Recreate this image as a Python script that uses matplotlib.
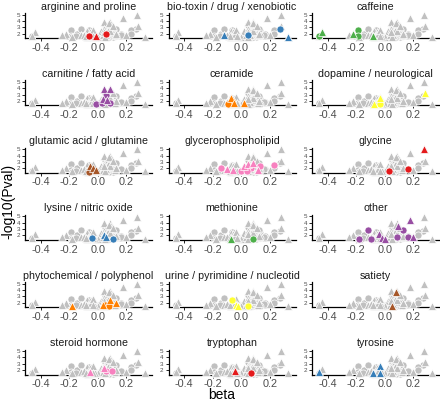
import matplotlib
matplotlib.use("Agg")
import matplotlib.pyplot as plt

plt.rcParams.update({
    "font.family": ["Liberation Sans", "DejaVu Sans"],
    "axes.unicode_minus": False,
})

# facet order and Set1-style colours (cycled)
categories = [
    "arginine and proline", "bio-toxin / drug / xenobiotic", "caffeine",
    "carnitine / fatty acid", "ceramide", "dopamine / neurological",
    "glutamic acid / glutamine", "glycerophospholipid", "glycine",
    "lysine / nitric oxide", "methionine", "other",
    "phytochemical / polyphenol", "urine / pyrimidine / nucleotid", "satiety",
    "steroid hormone", "tryptophan", "tyrosine",
]
palette = ["#E41A1C", "#377EB8", "#4DAF4A", "#984EA3",
           "#FF7F00", "#FFFF33", "#A65628", "#F781BF"]

# one entry per metabolite: category, beta, -log10(p), shape (o = circle, ^ = triangle)
point_cat = (
    ["arginine and proline"] * 3
    + ["bio-toxin / drug / xenobiotic"] * 4
    + ["caffeine"] * 6
    + ["carnitine / fatty acid"] * 8
    + ["ceramide"] * 5
    + ["dopamine / neurological"] * 4
    + ["glutamic acid / glutamine"] * 4
    + ["glycerophospholipid"] * 12
    + ["glycine"] * 3
    + ["lysine / nitric oxide"] * 4
    + ["methionine"] * 2
    + ["other"] * 12
    + ["phytochemical / polyphenol"] * 6
    + ["urine / pyrimidine / nucleotid"] * 4
    + ["satiety"] * 2
    + ["steroid hormone"] * 4
    + ["tryptophan"] * 2
    + ["tyrosine"] * 4
    + [None] * 6
)
point_beta = [
    -0.06, -0.01, 0.055,
    -0.12, 0.05, 0.27, 0.33,
    -0.46, -0.44, -0.22, -0.19, -0.19, -0.08,
    0.045, 0.085, 0.06, 0.04, -0.01, 0.03, 0.085, 0.065,
    -0.075, -0.065, -0.05, -0.09, 0.02,
    -0.035, -0.075, -0.035, 0.28,
    -0.055, -0.035, -0.015, -0.065,
    -0.145, -0.1, -0.06, 0.0, 0.02, 0.045, 0.08, 0.07, 0.13, 0.12, 0.23, 0.04,
    0.03, 0.165, 0.275,
    -0.04, 0.045, 0.06, 0.105,
    -0.07, 0.08,
    -0.18, -0.12, -0.1, -0.04, -0.02, 0.0, 0.09, 0.18, 0.085, 0.125, 0.16, 0.2,
    -0.18, 0.035, 0.05, 0.085, 0.08, 0.125,
    -0.065, -0.035, -0.02, 0.05,
    0.05, 0.08,
    -0.055, 0.045, 0.06, 0.1,
    -0.045, 0.065,
    -0.46, -0.08, -0.035, -0.03,
    -0.15, -0.25, 0.23, 0.11, 0.05, 0.13,
]
point_logp = [
    1.6, 1.65, 1.9,
    1.7, 1.7, 2.75, 1.5,
    1.6, 2.2, 2.0, 2.6, 1.65, 1.6,
    3.9, 3.9, 2.9, 2.3, 1.5, 1.6, 1.7, 2.2,
    2.45, 2.0, 1.7, 1.55, 1.6,
    2.45, 1.5, 1.5, 3.2,
    2.3, 2.0, 1.75, 1.45,
    2.0, 1.8, 1.7, 1.6, 2.35, 2.7, 2.8, 2.1, 2.35, 1.7, 2.5, 1.55,
    1.6, 1.9, 4.95,
    1.55, 2.05, 1.8, 1.45,
    1.45, 1.5,
    1.45, 2.8, 1.5, 2.2, 1.65, 1.5, 3.55, 4.45, 1.75, 2.8, 1.8, 1.75,
    1.5, 1.7, 1.6, 2.4, 1.45, 1.95,
    2.5, 1.7, 1.5, 1.45,
    1.5, 3.7,
    1.65, 2.3, 1.8, 1.9,
    1.9, 1.55,
    1.65, 1.6, 2.6, 1.6,
    1.6, 1.7, 2.0, 3.2, 3.3, 1.55,
]
point_shape = [
    "o", "^", "o",
    "^", "o", "o", "^",
    "o", "^", "^", "o", "o", "^",
    "^", "^", "o", "^", "o", "o", "o", "^",
    "^", "o", "^", "o", "^",
    "^", "^", "o", "^",
    "^", "^", "^", "o",
    "o", "^", "^", "o", "^", "^", "^", "o", "o", "^", "o", "o",
    "o", "o", "^",
    "o", "^", "^", "o",
    "^", "o",
    "o", "o", "o", "^", "^", "^", "^", "^", "o", "o", "o", "^",
    "^", "^", "o", "^", "o", "^",
    "o", "^", "^", "o",
    "^", "^",
    "^", "^", "o", "o",
    "^", "o",
    "^", "^", "^", "^",
    "o", "^", "o", "^", "o", "o",
]

fig = plt.figure(figsize=(4.4, 4.03), dpi=100)
W, H = 440.0, 403.0

def draw(ax, idx, color):
    for mk, size in (("o", 26), ("^", 32)):
        xs = [point_beta[i] for i in idx if point_shape[i] == mk]
        ys = [point_logp[i] for i in idx if point_shape[i] == mk]
        ax.scatter(xs, ys, marker=mk, s=size, c=color, edgecolors="white",
                   linewidths=0.5, clip_on=False, zorder=3)

all_idx = list(range(len(point_beta)))
for k, cat in enumerate(categories):
    r, c = divmod(k, 3)
    left = 25 + 143.5 * c
    top = 13 + 67.3 * r
    ax = fig.add_axes([left / W, 1 - (top + 25) / H, 127 / W, 25 / H])
    draw(ax, all_idx, "#C0C0C0")
    sel = [i for i in all_idx if point_cat[i] == cat]
    draw(ax, sel, palette[k % len(palette)])

    ax.set_xlim(-0.51, 0.38)
    ax.set_ylim(1.3, 5.25)
    ax.set_xticks([-0.4, -0.2, 0.0, 0.2])
    ax.set_xticklabels(["-0.4", "-0.2", "0.0", "0.2"])
    ax.set_yticks([2, 3, 4, 5])
    ax.tick_params(axis="x", labelsize=7.8, labelcolor="#4D4D4D",
                   length=2.5, width=0.6, pad=1)
    ax.tick_params(axis="y", labelsize=4.5, labelcolor="#4D4D4D",
                   length=2.5, width=0.6, pad=1)
    for side in ("top", "right"):
        ax.spines[side].set_visible(False)
    for side in ("left", "bottom"):
        ax.spines[side].set_linewidth(0.9)
    ax.set_title(cat, fontsize=7.7, color="#1A1A1A", pad=2.5)

fig.text(8 / W, 0.5, "-log10(Pval)", rotation=90, ha="center", va="center",
         fontsize=10)
fig.text(222 / W, 1 / H, "beta", ha="center", va="bottom", fontsize=10)

fig.savefig("out.png", dpi=100)
